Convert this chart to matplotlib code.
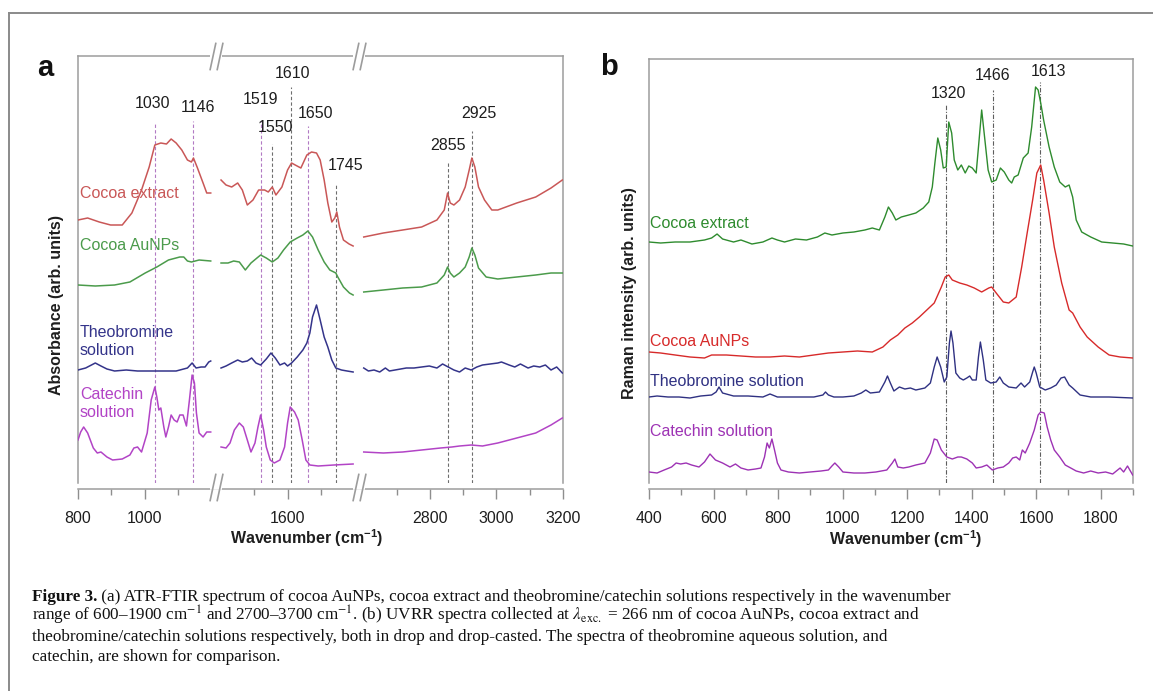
import numpy as np
import matplotlib
matplotlib.use("Agg")
import matplotlib.pyplot as plt
from matplotlib.path import Path
from matplotlib.lines import Line2D
import matplotlib.transforms as mtransforms

plt.rcParams['font.family'] = ['Liberation Sans', 'DejaVu Sans']
plt.rcParams['mathtext.fontset'] = 'custom'
plt.rcParams['mathtext.rm'] = 'Liberation Sans'
plt.rcParams['mathtext.bf'] = 'Liberation Sans:bold'
plt.rcParams['mathtext.it'] = 'Liberation Sans:italic'

# ---------------- data: (a) ATR-FTIR ----------------
ftir_extract_w = [800, 829, 864, 898, 933, 962, 991, 1014, 1031, 1049, 1066, 1080, 1095, 1112, 1129, 1141, 1147, 1158, 1176, 1187, 1199,
                  1400, 1415, 1432, 1450, 1464, 1479, 1496, 1513, 1531, 1542, 1554, 1565, 1583, 1600, 1612, 1623, 1640, 1658, 1672, 1687,
                  1698, 1710, 1721, 1733, 1742, 1748, 1756, 1768, 1785, 1797,
                  2601, 2660, 2718, 2775, 2821, 2843, 2853, 2861, 2872, 2889, 2906, 2918, 2926, 2935, 2946, 2964, 2986, 3004, 3061,
                  3118, 3164, 3198]
ftir_extract_a = [263, 265, 261, 258, 258, 270, 293, 316, 338, 340, 339, 344, 340, 333, 323, 321, 325, 316, 300, 290, 290,
                  303, 298, 296, 300, 293, 278, 283, 293, 293, 291, 296, 288, 296, 313, 320, 318, 315, 328, 331, 330,
                  323, 303, 280, 261, 265, 271, 256, 243, 239, 237,
                  246, 250, 253, 256, 263, 273, 290, 280, 278, 283, 296, 313, 325, 316, 296, 283, 273, 273, 280,
                  286, 295, 303]

ftir_aunps_w = [800, 852, 910, 956, 1002, 1037, 1072, 1106, 1118, 1129, 1141, 1164, 1199,
                1400, 1421, 1438, 1455, 1473, 1490, 1508, 1519, 1536, 1554, 1571, 1588, 1608, 1629, 1646, 1661, 1675, 1692,
                1710, 1727, 1745, 1751, 1768, 1786, 1797,
                2601, 2660, 2718, 2775, 2821, 2843, 2853, 2861, 2872, 2889, 2906, 2918, 2926, 2935, 2946, 2969, 3004, 3061,
                3118, 3164, 3198]
ftir_aunps_a = [198, 197, 198, 201, 210, 216, 223, 226, 226, 222, 221, 223, 222,
                220, 220, 222, 221, 213, 220, 225, 228, 225, 221, 225, 233, 241, 245, 248, 252, 246, 233,
                221, 213, 210, 206, 196, 190, 188,
                191, 193, 195, 196, 200, 208, 216, 210, 206, 210, 216, 226, 235, 228, 215, 206, 204, 206,
                208, 210, 210]

ftir_theo_w = [800, 823, 852, 869, 887, 910, 945, 979, 1025, 1060, 1095, 1129, 1143, 1155, 1170, 1182, 1193, 1199,
               1400, 1415, 1432, 1450, 1464, 1479, 1492, 1505, 1519, 1536, 1550, 1563, 1577, 1591, 1600, 1612, 1629, 1646,
               1658, 1667, 1675, 1687, 1698, 1710, 1721, 1733, 1745, 1762, 1779, 1797,
               2601, 2615, 2632, 2649, 2666, 2678, 2695, 2712, 2729, 2752, 2775, 2798, 2821, 2838, 2855, 2872, 2889,
               2906, 2924, 2941, 2958, 2981, 3004, 3015, 3038, 3055, 3072, 3095, 3112, 3130, 3147, 3164, 3181, 3198]
ftir_theo_a = [113, 115, 120, 117, 114, 112, 113, 112, 112, 112, 112, 115, 120, 115, 116, 116, 121, 122,
               115, 117, 120, 123, 121, 122, 125, 120, 118, 124, 130, 125, 118, 120, 117, 120, 126, 133,
               140, 150, 166, 178, 163, 146, 136, 123, 115, 113, 112, 111,
               115, 112, 113, 111, 115, 112, 113, 114, 115, 115, 116, 117, 115, 119, 116, 113, 111,
               115, 113, 116, 118, 119, 120, 121, 118, 116, 119, 115, 117, 116, 118, 113, 116, 110]

ftir_cat_w = [800, 808, 817, 829, 846, 858, 869, 887, 904, 933, 956, 968, 979, 991, 1008, 1020, 1031, 1037, 1043, 1049,
              1058, 1064, 1072, 1080, 1089, 1098, 1106, 1116, 1126, 1135, 1143, 1150, 1156, 1164, 1176, 1187, 1199,
              1400, 1415, 1427, 1440, 1455, 1467, 1479, 1490, 1502, 1511, 1519, 1528, 1536, 1548, 1560, 1577, 1591, 1600,
              1608, 1621, 1632, 1644, 1655, 1667, 1692, 1739, 1797,
              2601, 2660, 2718, 2775, 2832, 2866, 2889, 2924, 2958, 3004, 3061, 3118, 3164, 3198]
ftir_cat_a = [43, 51, 56, 50, 35, 30, 31, 26, 23, 24, 28, 35, 36, 31, 50, 83, 96, 86, 73, 75,
              56, 46, 56, 68, 63, 61, 68, 68, 57, 83, 108, 100, 70, 50, 46, 51, 51,
              36, 35, 40, 53, 60, 56, 43, 31, 40, 56, 68, 53, 36, 23, 20, 23, 36, 60,
              76, 71, 63, 43, 23, 18, 17, 18, 19,
              31, 30, 31, 33, 35, 36, 37, 38, 37, 40, 45, 50, 58, 65]

ftir_marks = [1030, 1146, 1519, 1552, 1609, 1662, 1746, 2854, 2926]
ftir_mark_labels = ['1030', '1146', '1519', '1550', '1610', '1650', '1745', '2855', '2925']
ftir_mark_top = [361, 362, 362, 339, 396, 357, 299, 322, 352]
ftir_label_x = [1025, 1161, 1520, 1565, 1616, 1685, 1773, 2854, 2947]
ftir_label_y = [380, 375, 383, 356, 409, 369, 317, 338, 370]
ftir_mark_purple = [True, True, True, False, False, True, False, False, False]

ftir_major = [800, 1000, 1600, 2800, 3000, 3200]
ftir_minor = [900, 1100, 1500, 1700, 2700, 2900, 3100]

# ---------------- data: (b) UVRR ----------------
raman_extract_w = [400, 436, 481, 527, 572, 594, 611, 628, 662, 685, 719, 753, 781, 798, 820, 854, 888, 922, 945, 967,
                   1001, 1035, 1069, 1092, 1114, 1131, 1142, 1154, 1165, 1182, 1205, 1227, 1250, 1267, 1278, 1286, 1295,
                   1304, 1312, 1321, 1329, 1338, 1346, 1357, 1368, 1380, 1391, 1402, 1414, 1423, 1431, 1440, 1451, 1462,
                   1476, 1489, 1501, 1515, 1524, 1532, 1544, 1560, 1575, 1586, 1598, 1606, 1614, 1623, 1640, 1656, 1673,
                   1690, 1702, 1713, 1724, 1741, 1769, 1803, 1837, 1871, 1899]
raman_extract_i = [241, 240, 241, 241, 243, 245, 249, 244, 241, 243, 239, 241, 245, 243, 241, 244, 243, 246, 250, 248,
                   250, 251, 253, 255, 253, 266, 276, 270, 263, 266, 268, 270, 275, 281, 296, 320, 345,
                   333, 315, 316, 361, 350, 323, 313, 318, 310, 317, 315, 310, 343, 373, 346, 313, 301,
                   303, 315, 311, 303, 300, 306, 308, 325, 330, 356, 396, 393, 380, 363, 336, 316, 301,
                   296, 298, 286, 263, 251, 246, 241, 240, 239, 237]

raman_aunps_w = [400, 436, 481, 527, 572, 594, 640, 685, 730, 775, 820, 866, 911, 956, 1001, 1046, 1092, 1125, 1148, 1171,
                 1193, 1216, 1238, 1261, 1284, 1306, 1318, 1329, 1340, 1363, 1385, 1408, 1431, 1453, 1462, 1476, 1498,
                 1515, 1538, 1555, 1572, 1589, 1602, 1614, 1623, 1640, 1656, 1679, 1702, 1713, 1736, 1758, 1792, 1826,
                 1860, 1899]
raman_aunps_i = [131, 130, 128, 126, 125, 128, 128, 127, 126, 126, 127, 126, 128, 130, 131, 132, 131, 136, 143, 148,
                 155, 160, 166, 173, 180, 196, 206, 208, 203, 200, 198, 195, 191, 195, 196, 190, 181,
                 180, 186, 216, 250, 283, 310, 318, 303, 270, 236, 200, 173, 170, 156, 146, 136, 128,
                 126, 125]

raman_theo_w = [400, 425, 459, 493, 527, 560, 594, 608, 617, 628, 662, 707, 753, 775, 798, 832, 866, 911, 939, 947,
                956, 973, 1001, 1035, 1058, 1072, 1086, 1114, 1131, 1139, 1148, 1159, 1176, 1193, 1210, 1227, 1255, 1272,
                1284, 1293, 1304, 1315, 1323, 1331, 1336, 1342, 1351, 1363, 1374, 1385, 1394, 1402, 1414, 1421, 1427,
                1436, 1444, 1459, 1476, 1487, 1498, 1515, 1538, 1553, 1564, 1580, 1589, 1594, 1600, 1611, 1628, 1645,
                1662, 1677, 1688, 1702, 1713, 1736, 1769, 1826, 1899]
raman_theo_i = [86, 87, 86, 86, 85, 87, 88, 91, 96, 90, 87, 87, 86, 89, 86, 86, 86, 86, 88, 91,
                88, 86, 86, 87, 90, 93, 90, 91, 101, 107, 100, 92, 96, 94, 95, 93, 95, 100,
                116, 126, 116, 101, 106, 140, 152, 140, 110, 105, 103, 105, 107, 103, 103, 126, 141,
                123, 103, 100, 101, 106, 100, 96, 95, 100, 96, 101, 111, 116, 110, 96, 93, 95,
                98, 105, 106, 98, 95, 88, 86, 86, 85]

raman_cat_w = [400, 425, 447, 470, 484, 498, 515, 532, 555, 572, 589, 606, 628, 651, 668, 685, 707, 730, 747, 758,
               766, 773, 781, 789, 798, 809, 832, 866, 899, 933, 956, 967, 976, 988, 1001, 1035, 1069, 1103, 1137, 1154,
               1162, 1171, 1188, 1205, 1227, 1255, 1272, 1284, 1293, 1306, 1323, 1340, 1357, 1368, 1385, 1402, 1414,
               1431, 1447, 1464, 1481, 1498, 1515, 1527, 1538, 1549, 1557, 1566, 1580, 1594, 1606, 1614, 1625, 1634,
               1645, 1656, 1673, 1690, 1707, 1724, 1747, 1769, 1792, 1815, 1837, 1860, 1871, 1883, 1899]
raman_cat_i = [11, 10, 13, 16, 20, 19, 20, 18, 16, 21, 29, 23, 20, 16, 19, 15, 13, 14, 15, 26,
               40, 35, 44, 33, 20, 13, 11, 10, 11, 12, 13, 17, 20, 16, 11, 10, 10, 11, 13, 20,
               24, 16, 15, 16, 18, 20, 30, 44, 43, 33, 26, 24, 26, 26, 24, 20, 15,
               16, 18, 13, 15, 16, 20, 25, 26, 23, 33, 30, 40, 53, 68, 71, 70, 56,
               43, 33, 26, 18, 15, 12, 10, 12, 10, 11, 9, 15, 11, 17, 8]

raman_marks = [1320, 1466, 1613]
raman_mark_top = [378, 393, 401]
raman_label_x = [1327, 1464, 1637]
raman_label_y = [389, 407, 411]
raman_major = [400, 600, 800, 1000, 1200, 1400, 1600, 1800]
raman_minor = [500, 700, 900, 1100, 1300, 1500, 1700, 1900]

# ---------------- colours ----------------
A_RED, A_GREEN, A_NAVY, A_PURPLE = '#c95757', '#4b9b4b', '#34348a', '#b244c6'
B_GREEN, B_RED, B_NAVY, B_PURPLE = '#2e8b2e', '#d72a2a', '#2f3182', '#9d32b4'
SPINE = '#9c9c9c'
TICKC = '#8e8e8e'
TXT = '#1e1e1e'
FS = 11.5

W, H = 1153, 691
fig = plt.figure(figsize=(W / 100, H / 100), dpi=100)


def box(l, t, r, b):
    return [l / W, 1 - b / H, (r - l) / W, (b - t) / H]


def fpx(x, y):
    return x / W, 1 - y / H


axA = fig.add_axes(box(78, 56, 563, 483))
axB = fig.add_axes(box(649, 59, 1133, 483))

# broken-axis scale for (a)
BW = np.array([800, 1200, 1400, 1800, 2600, 3200], float)
BU = np.array([0, 400, 430, 830, 858, 1458], float)


def fwd(x):
    x = np.asarray(x, float)
    y = np.interp(x, BW, BU)
    y = np.where(x < BW[0], x - BW[0] + BU[0], y)
    y = np.where(x > BW[-1], x - BW[-1] + BU[-1], y)
    return y


def inv(u):
    u = np.asarray(u, float)
    x = np.interp(u, BU, BW)
    x = np.where(u < BU[0], u - BU[0] + BW[0], x)
    x = np.where(u > BU[-1], u - BU[-1] + BW[-1], x)
    return x


axA.set_xscale('function', functions=(fwd, inv))


def split(w, a):
    w = np.asarray(w, float)
    a = np.asarray(a, float)
    cut = np.where(np.diff(w) > 150)[0] + 1
    return np.insert(w, cut, np.nan), np.insert(a, cut, np.nan)


for w, a, c in [(ftir_extract_w, ftir_extract_a, A_RED), (ftir_aunps_w, ftir_aunps_a, A_GREEN),
                (ftir_theo_w, ftir_theo_a, A_NAVY), (ftir_cat_w, ftir_cat_a, A_PURPLE)]:
    ww, aa = split(w, a)
    axA.plot(ww, aa, color=c, lw=1.1, zorder=3)

for xm, top, lab, lx, ly, pur in zip(ftir_marks, ftir_mark_top, ftir_mark_labels, ftir_label_x, ftir_label_y,
                                     ftir_mark_purple):
    axA.vlines(xm, 0, top, colors=('#b27ac4' if pur else '#6e6e6e'), lw=0.8, linestyles=(0, (3, 2)), zorder=2)
    axA.text(lx, ly, lab, ha='center', va='center', fontsize=FS, color=TXT)

axA.set_xlim(800, 3200)
axA.set_ylim(0, 427)
axA.set_xticks(ftir_major, [str(v) for v in ftir_major])
axA.set_xticks(ftir_minor, minor=True)

axA.text(806, 289, 'Cocoa extract', color=A_RED, fontsize=FS, va='center', ha='left')
axA.text(806, 238, 'Cocoa AuNPs', color=A_GREEN, fontsize=FS, va='center', ha='left')
axA.text(806, 141.5, 'Theobromine\nsolution', color=A_NAVY, fontsize=FS, va='center', ha='left', linespacing=1.3)
axA.text(806, 79.5, 'Catechin\nsolution', color=A_PURPLE, fontsize=FS, va='center', ha='left', linespacing=1.3)

# ---- panel b ----
for w, a, c in [(raman_extract_w, raman_extract_i, B_GREEN), (raman_aunps_w, raman_aunps_i, B_RED),
                (raman_theo_w, raman_theo_i, B_NAVY), (raman_cat_w, raman_cat_i, B_PURPLE)]:
    axB.plot(w, a, color=c, lw=1.0, zorder=3)

for xm, top, lx, ly in zip(raman_marks, raman_mark_top, raman_label_x, raman_label_y):
    axB.vlines(xm, 0, top, colors='#5e5e5e', lw=0.8, linestyles=(0, (4, 1.5, 1, 1.5)), zorder=2)
    axB.text(lx, ly, str(xm), ha='center', va='center', fontsize=FS, color=TXT)

axB.set_xlim(400, 1900)
axB.set_ylim(0, 424)
axB.set_xticks(raman_major, [str(v) for v in raman_major])
axB.set_xticks(raman_minor, minor=True)

axB.text(403, 259, 'Cocoa extract', color=B_GREEN, fontsize=FS, va='center', ha='left')
axB.text(403, 142, 'Cocoa AuNPs', color=B_RED, fontsize=FS, va='center', ha='left')
axB.text(403, 102, 'Theobromine solution', color=B_NAVY, fontsize=FS, va='center', ha='left')
axB.text(403, 51, 'Catechin solution', color=B_PURPLE, fontsize=FS, va='center', ha='left')

for ax in (axA, axB):
    ax.set_yticks([])
    for s in ax.spines.values():
        s.set_color(SPINE)
        s.set_linewidth(1.1)
    ax.spines['bottom'].set_position(('outward', 4))
    ax.tick_params(axis='x', which='both', direction='out', colors=TICKC, width=1.0,
                   labelsize=FS, labelcolor=TXT, pad=9)
    ax.tick_params(axis='x', which='major', length=7)
    ax.tick_params(axis='x', which='minor', length=4)

# break marks on (a)
slash = Path([(-0.47, -1), (-0.04, 1), (0.04, -1), (0.47, 1)],
             [Path.MOVETO, Path.LINETO, Path.MOVETO, Path.LINETO])
bottom_tr = mtransforms.offset_copy(axA.get_xaxis_transform(), fig=fig, x=0, y=-4, units='dots')
for gap in [(1196, 1404), (1796, 2604)]:
    axA.plot(list(gap), [0, 0], transform=bottom_tr, color='white', lw=4, clip_on=False, zorder=5,
             solid_capstyle='butt')
    axA.plot(list(gap), [1, 1], transform=axA.get_xaxis_transform(), color='white', lw=4, clip_on=False,
             zorder=5, solid_capstyle='butt')
for tr, yy in [(axA.get_xaxis_transform(), 1), (bottom_tr, 0)]:
    axA.plot([1300, 2200], [yy, yy], transform=tr, marker=slash, ms=20, mew=1.2, color=SPINE,
             linestyle='none', clip_on=False, zorder=6)

# axis labels and panel letters
fig.text(*fpx(307, 538), r'Wavenumber (cm$^{\mathbf{-1}}$)', ha='center', va='center', fontsize=FS,
         fontweight='bold', color=TXT)
fig.text(*fpx(906, 539), r'Wavenumber (cm$^{\mathbf{-1}}$)', ha='center', va='center', fontsize=FS,
         fontweight='bold', color=TXT)
fig.text(*fpx(57, 305), 'Absorbance (arb. units)', rotation=90, ha='center', va='center', fontsize=FS,
         fontweight='bold', color=TXT)
fig.text(*fpx(629, 293), 'Raman intensity (arb. units)', rotation=90, ha='center', va='center', fontsize=FS,
         fontweight='bold', color=TXT)
fig.text(*fpx(45, 68), 'a', ha='center', va='center', fontsize=21, fontweight='bold', color='#111111')
fig.text(*fpx(609, 67), 'b', ha='center', va='center', fontsize=21, fontweight='bold', color='#111111')

# outer frame
fig.add_artist(Line2D([9 / W, 9 / W], [0, 1 - 13 / H], transform=fig.transFigure, color='#8a8a8a', lw=1.4))
fig.add_artist(Line2D([9 / W, 1], [1 - 13 / H, 1 - 13 / H], transform=fig.transFigure, color='#8a8a8a', lw=1.4))

# caption
CAPF = ['Liberation Serif', 'DejaVu Serif']
CAP_FS = 12.3
cap_rest1 = (' (a) ATR-FTIR spectrum of cocoa AuNPs, cocoa extract and theobromine/catechin solutions '
             'respectively in the wavenumber')
cap_lines = [
    r'range of 600–1900 cm$^{-1}$ and 2700–3700 cm$^{-1}$. (b) UVRR spectra collected at '
    r'$\lambda_{\mathrm{exc.}}$ = 266 nm of cocoa AuNPs, cocoa extract and',
    'theobromine/catechin solutions respectively, both in drop and drop-casted. The spectra of theobromine '
    'aqueous solution, and',
    'catechin, are shown for comparison.',
]
cap_base = [601, 621, 641, 661]
x0 = 32
tb = fig.text(*fpx(x0, cap_base[0]), 'Figure 3.', fontweight='bold', family=CAPF, fontsize=CAP_FS,
              va='baseline', color='#111111')
tr1 = fig.text(*fpx(x0, cap_base[0]), cap_rest1, family=CAPF, fontsize=CAP_FS, va='baseline', color='#111111')
for s, yy in zip(cap_lines, cap_base[1:]):
    fig.text(*fpx(x0, yy), s, family=CAPF, fontsize=CAP_FS, va='baseline', color='#111111',
             math_fontfamily='stix')
r = fig.canvas.get_renderer()
bb = tb.get_window_extent(r)
tr1.set_x(bb.x1 / W)

fig.savefig('out.png', dpi=100)
